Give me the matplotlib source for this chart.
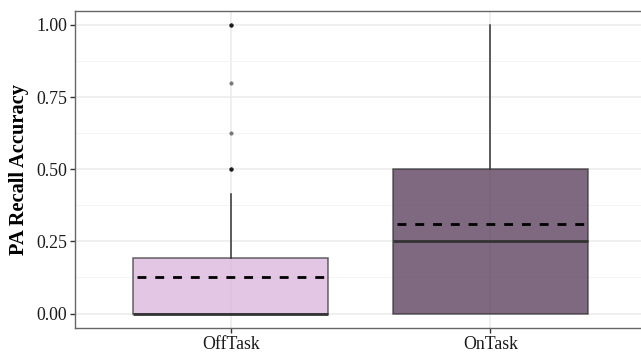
import matplotlib
matplotlib.use("Agg")
import matplotlib.pyplot as plt
import numpy as np

# Summary statistics per task condition
categories = ["OffTask", "OnTask"]
q1 = [0.0, 0.0]
median = [0.0, 0.25]
q3 = [0.192, 0.5]
whisker_low = [0.0, 0.0]
whisker_high = [0.414, 1.0]
means = [0.125, 0.31]
offtask_outliers = [0.5, 0.5, 0.5, 0.625, 0.8, 1.0, 1.0, 1.0]
ontask_outliers = []
y_ticks = [0.0, 0.25, 0.5, 0.75, 1.0]
y_tick_labels = ["0.00", "0.25", "0.50", "0.75", "1.00"]

fill_colors = ["#DAB2DC", "#543757"]
edge_color = "#333333"

plt.rcParams["font.family"] = ["Liberation Serif", "DejaVu Serif"]

fig = plt.figure(figsize=(6.41, 3.53), dpi=100)
ax = fig.add_axes([75 / 641, 25 / 353, 571 / 641, 317.5 / 353])

positions = np.arange(1, len(categories) + 1)
fliers = [offtask_outliers, ontask_outliers]
stats = []
for i, name in enumerate(categories):
    stats.append(dict(label=name, q1=q1[i], med=median[i], q3=q3[i],
                      whislo=whisker_low[i], whishi=whisker_high[i],
                      fliers=[]))

bp = ax.bxp(stats, positions=positions, widths=0.75, patch_artist=True,
            showcaps=False, showfliers=False,
            boxprops=dict(edgecolor=edge_color, linewidth=1.1),
            whiskerprops=dict(color=edge_color, linewidth=1.1),
            medianprops=dict(color=edge_color, linewidth=2.0),
            zorder=3)
for patch, c in zip(bp["boxes"], fill_colors):
    patch.set_facecolor(c)
    patch.set_alpha(0.75)
    patch.set_edgecolor(edge_color)

# outlying observations, stacked points appear darker
for pos, vals in zip(positions, fliers):
    if vals:
        ax.scatter(np.full(len(vals), pos), vals, s=9, color="black",
                   alpha=0.5, linewidths=0, zorder=4)

# group means
for pos, m in zip(positions, means):
    ax.hlines(m, pos - 0.36, pos + 0.36, colors="black", linewidth=2.0,
              linestyles=(0, (3.2, 3.2)), zorder=5)

ax.set_xlim(0.4, 2.6)
ax.set_ylim(-0.05, 1.05)
ax.set_xticks(positions)
ax.set_xticklabels(categories)
ax.set_yticks(y_ticks)
ax.set_yticklabels(y_tick_labels)
ax.set_yticks([0.125, 0.375, 0.625, 0.875], minor=True)

ax.grid(True, which="major", color="#EBEBEB", linewidth=1.1, zorder=0)
ax.grid(True, which="minor", axis="y", color="#F2F2F2", linewidth=0.6, zorder=0)
ax.set_axisbelow(True)
ax.tick_params(axis="both", which="major", length=3.5, width=1.0,
               color="#333333", labelsize=12.8, labelcolor="#1a1a1a", pad=2)
ax.tick_params(axis="y", which="minor", length=0)

for s in ax.spines.values():
    s.set_color("#666666")
    s.set_linewidth(1.0)

ax.set_ylabel("PA Recall Accuracy", fontsize=14.7, fontweight="bold", labelpad=5)

fig.savefig("out.png", dpi=100)
